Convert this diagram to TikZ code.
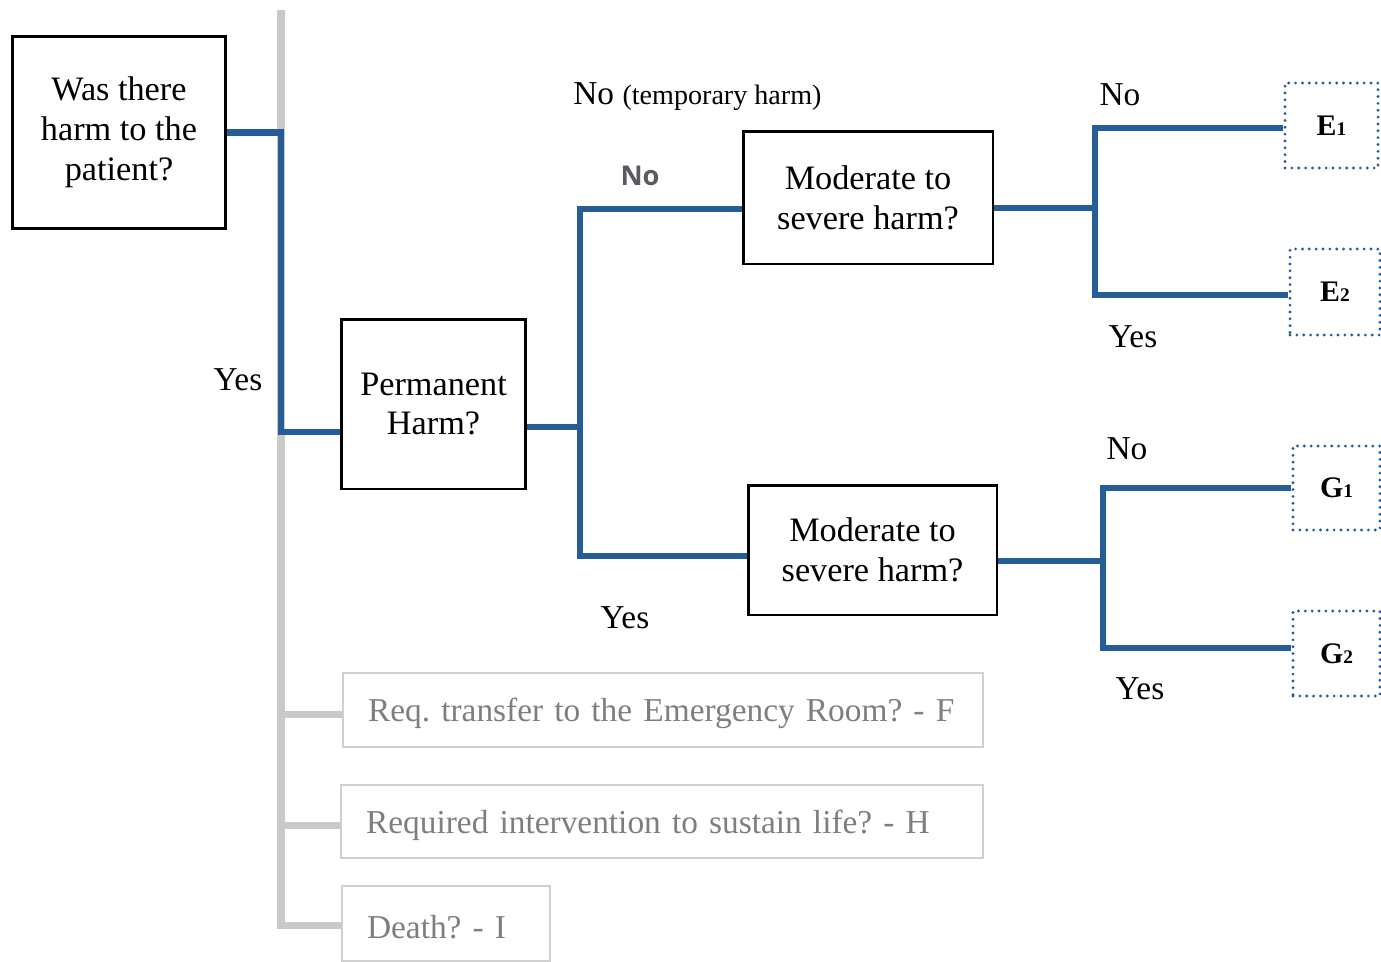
\documentclass[tikz,border=0pt]{standalone}
\usepackage{fontspec}
\setmainfont{Liberation Serif}
\newfontfamily\labelsans{Open Sans}
\definecolor{lineblue}{HTML}{265C98}
\definecolor{linegray}{HTML}{C9C9C9}
\definecolor{boxgray}{HTML}{D0D0D0}
\definecolor{textgray}{HTML}{7E7E7E}
\definecolor{nogray}{HTML}{585C60}
\frenchspacing
\begin{document}
\begin{tikzpicture}[x=0.02cm,y=-0.02cm,
  qbox/.style={draw=black,line width=1.7pt,align=center,inner sep=0pt,
    font=\fontsize{19.5}{22.7}\selectfont},
  gbox/.style={draw=boxgray,line width=1.6pt,inner sep=0pt,text=textgray,
    align=left,text height=0.62cm,
    font=\fontsize{19}{22.7}\selectfont},
  ebox/.style={draw=lineblue,line width=1.8pt,dash pattern=on 0pt off 3.9pt,line cap=round,
    inner sep=0pt,font=\fontsize{17}{19}\selectfont\bfseries},
  blueline/.style={draw=lineblue,line width=3.6pt,line join=miter},
  grayline/.style={draw=linegray,line width=4pt,line join=miter},
  lbl/.style={inner sep=0pt,font=\fontsize{19}{22}\selectfont}]
\useasboundingbox (0,0) rectangle (1381,961);

% question boxes
\node[qbox,minimum width=4.28cm,minimum height=3.86cm] (A) at (119,132.5)
  {Was there\\harm to the\\patient?};
\node[qbox,minimum width=3.7cm,minimum height=3.4cm] (P) at (433.5,404)
  {Permanent\\Harm?};
\node[qbox,minimum width=5.0cm,minimum height=2.66cm] (M1) at (868,197.5)
  {Moderate to\\severe harm?};
\node[qbox,minimum width=4.98cm,minimum height=2.6cm] (M2) at (872.5,550)
  {Moderate to\\severe harm?};

% outcome boxes
\newcommand{\subdig}[1]{{\fontsize{11}{12}\selectfont #1}}
\node[ebox,minimum width=1.86cm,minimum height=1.7cm] (E1) at (1331.5,125.5) {E\subdig{1}};
\node[ebox,minimum width=1.8cm,minimum height=1.72cm] (E2) at (1335,292) {E\subdig{2}};
\node[ebox,minimum width=1.74cm,minimum height=1.68cm] (G1) at (1336.5,488) {G\subdig{1}};
\node[ebox,minimum width=1.74cm,minimum height=1.7cm] (G2) at (1336.5,653.5) {G\subdig{2}};

% gray boxes
\node[gbox,minimum width=12.8cm,minimum height=1.48cm,text width=12.5cm] (F) at (663,710)
  {\hspace*{0.35cm}Req. transfer to the Emergency Room? - F};
\node[gbox,minimum width=12.84cm,minimum height=1.46cm,text width=12.54cm] (H) at (662,821.5)
  {\hspace*{0.35cm}Required intervention to sustain life? - H};
\node[gbox,minimum width=4.16cm,minimum height=1.5cm,text width=3.86cm] (D) at (446,923.5)
  {\hspace*{0.35cm}Death? - I};

% junction coordinates
\coordinate (gtop) at (281,10);
\coordinate (gf) at (281,714);
\coordinate (gh) at (281,825);
\coordinate (gd) at (281,925);
\coordinate (j1) at (281,432);
\coordinate (j2) at (580,427);
\coordinate (jt) at (580,209);
\coordinate (jb) at (580,556);
\coordinate (k) at (1095,208);
\coordinate (kt) at (1095,128);
\coordinate (kb) at (1095,295);
\coordinate (m) at (1103,561);
\coordinate (mt) at (1103,488);
\coordinate (mb) at (1103,648);

% gray connectors
\draw[grayline] (gtop) -- (gd) -- (gd -| D.west);
\draw[grayline] (gf) -- (gf -| F.west);
\draw[grayline] (gh) -- (gh -| H.west);

% blue connectors
\draw[blueline] (A.east) -| (j1) -- (j1 -| P.west);
\draw[blueline] (j2 -| P.east) -- (j2);
\draw[blueline] (jt -| M1.west) -- (jt) -- (jb) -- (jb -| M2.west);
\draw[blueline] (k -| M1.east) -- (k);
\draw[blueline] (kt -| E1.west) -- (kt) -- (kb) -- (kb -| E2.west);
\draw[blueline] (m -| M2.east) -- (m);
\draw[blueline] (mt -| G1.west) -- (mt) -- (mb) -- (mb -| G2.west);

% labels
\node[lbl] (l1) at (238,380) {Yes};
\node[lbl,anchor=west] (l2) at (573,97) {No {\fontsize{16}{18}\selectfont (temporary harm)}};
\node[inner sep=0pt,text=nogray,font=\labelsans\bfseries\fontsize{15.5}{18}\selectfont] (l3) at (640,176) {No};
\node[lbl] (l4) at (625,618) {Yes};
\node[lbl] (l5) at (1120,95) {No};
\node[lbl] (l6) at (1133,337) {Yes};
\node[lbl] (l7) at (1127,449) {No};
\node[lbl] (l8) at (1140,689) {Yes};
\end{tikzpicture}
\end{document}
